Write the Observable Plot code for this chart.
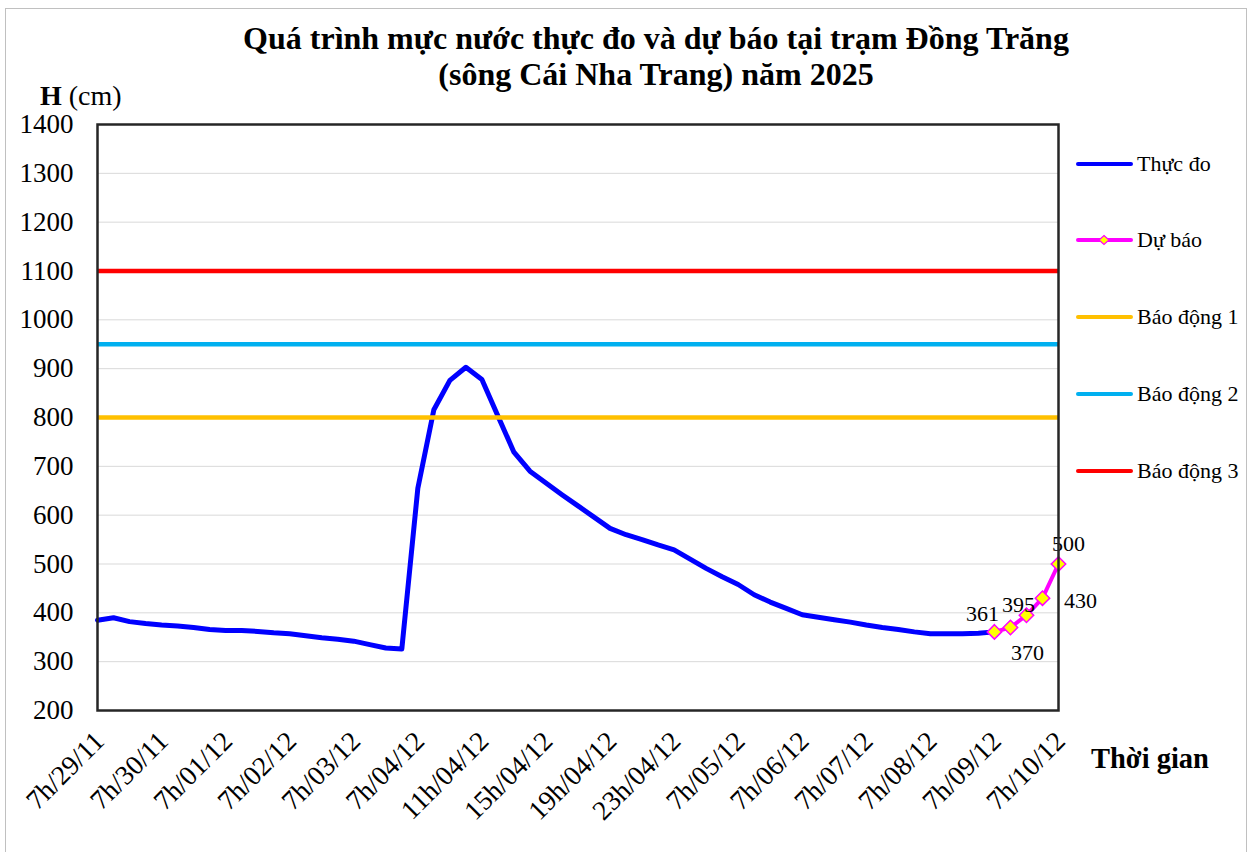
<!DOCTYPE html>
<html><head><meta charset="utf-8">
<script src="https://cdn.jsdelivr.net/npm/d3@7"></script>
<script src="https://cdn.jsdelivr.net/npm/@observablehq/plot@0.6"></script>
<style>
body{margin:0;background:#fff;font-family:"Liberation Serif","Times New Roman",serif;color:#000;}
#wrap{position:relative;width:1255px;height:852px;overflow:hidden;background:#fff;}
#border{position:absolute;left:5px;top:8px;width:1242px;height:852px;border:1.5px solid #c0c0c0;box-sizing:border-box;}
#chart{position:absolute;left:0;top:0;}
#chart svg, #chart svg text{font-family:"Liberation Serif","Times New Roman",serif !important;}
#title{position:absolute;left:156px;width:1000px;top:20px;text-align:center;font-weight:bold;font-size:32px;line-height:36px;}
#ylab{position:absolute;left:40px;top:80px;font-size:28px;line-height:32px;}
#xlab{position:absolute;left:1091px;top:742px;font-size:28.5px;font-weight:bold;line-height:34px;}
.leg{position:absolute;left:1076px;height:24px;display:flex;align-items:center;font-size:22px;white-space:nowrap;}
.leg svg{margin-right:4px;}
</style></head>
<body>
<div id="wrap">
  <div id="border"></div>
  <div id="chart"></div>
  <div id="title">Quá trình mực nước thực đo và dự báo tại trạm Đồng Trăng<br>(sông Cái Nha Trang) năm 2025</div>
  <div id="ylab"><b>H</b> (cm)</div>
  <div id="xlab">Thời gian</div>
  <div id="legend"></div>
</div>
<script>
// Tick labels along the category axis (one label every 4 observations)
const tickLabels = ["7h/29/11","7h/30/11","7h/01/12","7h/02/12","7h/03/12","7h/04/12","11h/04/12","15h/04/12","19h/04/12","23h/04/12","7h/05/12","7h/06/12","7h/07/12","7h/08/12","7h/09/12","7h/10/12"];
const pointsPerLabel = 4;

// Observed water level (cm), observation index 0..56
const observed = [385,390,382,378,375,373,370,366,364,364,362,359,357,353,349,346,342,335,328,326,
  655,816,876,903,878,803,729,690,
  666,642,619,596,573,560,550,539,529,510,491,474,
  458,437,422,409,396,391,386,381,375,370,366,361,
  357,357,357,358,361];

// Forecast (cm), starting at observation index 56
const forecastStart = 56;
const forecast = [361,370,395,430,500];

// Alarm levels
const alarmNames = ["Báo động 1","Báo động 2","Báo động 3"];
const alarmLevels = [800,950,1100];

// Y axis ticks
const yTicks = [200,300,400,500,600,700,800,900,1000,1100,1200,1300,1400];

const seriesNames = ["Thực đo","Dự báo"];

const colors = {obs:"#0000FF", fc:"#FF00FF", fill:"#FFFF00", a:["#FFC000","#00B0F0","#FF0000"]};

const obsData = observed.map((v,i)=>({i, v}));
const fcData = forecast.map((v,k)=>({i: forecastStart+k, v}));
const alarmData = alarmLevels.map((v,k)=>({name: alarmNames[k], v, color: colors.a[k]}));
const nCat = (tickLabels.length-1)*pointsPerLabel;
const tickIdx = tickLabels.map((_,k)=>k*pointsPerLabel);

// label offsets (Excel-style manual data-label positions)
const labelOffsets = [[-12,-18],[17,25],[-8,-10],[38,3],[10,-20]];

const font = '"Liberation Serif","Times New Roman",serif';

const marks = [
  Plot.gridY(yTicks, {stroke:"#d9d9d9", strokeOpacity:1, strokeWidth:1}),
  Plot.axisY(yTicks, {tickSize:0, tickPadding:24, fontSize:27, fontFamily:font, fill:"#000", label:null, tickFormat:d=>String(d)}),
  Plot.axisX(tickIdx, {tickSize:0, tickPadding:26, dx:2, tickRotate:-45, fontSize:27.5, fontFamily:font, fill:"#000", label:null,
     tickFormat: d => tickLabels[d/pointsPerLabel]}),
  Plot.line(obsData, {x:"i", y:"v", stroke:colors.obs, strokeWidth:5, strokeLinejoin:"round"}),
  Plot.line(fcData, {x:"i", y:"v", stroke:colors.fc, strokeWidth:4}),
  Plot.dot(fcData, {x:"i", y:"v", symbol:"diamond2", r:6.5, fill:colors.fill, stroke:colors.fc, strokeWidth:1.5}),
  ...alarmData.map(a => Plot.ruleY([a], {y:"v", stroke:a.color, strokeWidth:4.5})),
  ...fcData.map((d,k)=>Plot.text([d], {x:"i", y:"v", text:d=>String(d.v), dx:labelOffsets[k][0], dy:labelOffsets[k][1], fontSize:22, fontFamily:font, fill:"#000", textAnchor:"middle", lineAnchor:"middle"})),
  Plot.frame({stroke:"#262626", strokeWidth:2.5})
];

const chart = Plot.plot({
  width:1255, height:852,
  marginLeft:97, marginRight:197, marginTop:124, marginBottom:142,
  style:{fontFamily:font, background:"transparent", overflow:"visible"},
  x:{type:"linear", domain:[0,nCat], axis:null},
  y:{type:"linear", domain:[200,1400], axis:null},
  marks
});
document.getElementById("chart").appendChild(chart);

// Legend (HTML)
const legend = document.getElementById("legend");
const legItems = [
  {name:seriesNames[0], color:colors.obs, marker:false},
  {name:seriesNames[1], color:colors.fc, marker:true},
  ...alarmData.map(a=>({name:a.name, color:a.color, marker:false}))
];
const legY = [164,240,317,394,471];
legItems.forEach((it,k)=>{
  const div = document.createElement("div");
  div.className = "leg";
  div.style.top = (legY[k]-12)+"px";
  const m = it.marker ? `<path d="M28,1.5 L33,6 L28,10.5 L23,6 Z" fill="${colors.fill}" stroke="${colors.fc}" stroke-width="1.2"/>` : "";
  div.innerHTML = `<svg width="57" height="12"><line x1="2" y1="6" x2="55" y2="6" stroke="${it.color}" stroke-width="4" stroke-linecap="round"/>${m}</svg><span>${it.name}</span>`;
  legend.appendChild(div);
});
</script>
</body></html>
